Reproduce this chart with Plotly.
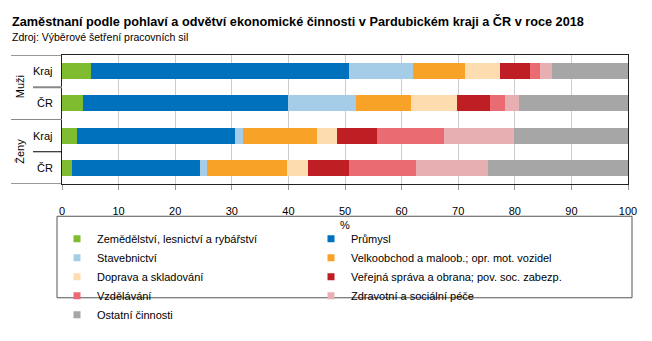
import plotly.graph_objects as go

rows = ["Muži|Kraj", "Muži|ČR", "Ženy|Kraj", "Ženy|ČR"]
inner_labels = ["Kraj", "ČR", "Kraj", "ČR"]
groups = ["Muži", "Ženy"]

sectors = [
    "Zemědělství, lesnictví a rybářství",
    "Průmysl",
    "Stavebnictví",
    "Velkoobchod a maloob.; opr. mot. vozidel",
    "Doprava a skladování",
    "Veřejná správa a obrana; pov. soc. zabezp.",
    "Vzdělávání",
    "Zdravotní a sociální péče",
    "Ostatní činnosti",
]

# values per sector for rows: Muži Kraj, Muži ČR, Ženy Kraj, Ženy ČR (%)
zemedelstvi = [5.2, 3.7, 2.6, 1.8]
prumysl = [45.5, 36.3, 28.0, 22.6]
stavebnictvi = [11.4, 12.0, 1.4, 1.3]
obchod = [9.1, 9.7, 13.0, 14.1]
doprava = [6.1, 8.1, 3.6, 3.6]
sprava = [5.4, 5.8, 7.1, 7.3]
vzdelavani = [1.8, 2.7, 11.8, 11.8]
zdravotni = [2.1, 2.4, 12.4, 12.7]
ostatni = [13.4, 19.3, 20.1, 24.8]

series = [zemedelstvi, prumysl, stavebnictvi, obchod, doprava, sprava,
          vzdelavani, zdravotni, ostatni]
colors = ["#80bc30", "#0071bd", "#a6cde8", "#f9a228", "#fddcb0",
          "#be1e24", "#eb6b73", "#e8afb2", "#a6a6a6"]

x_ticks = [0, 10, 20, 30, 40, 50, 60, 70, 80, 90, 100]

fig = go.Figure()
for name, vals, col in zip(sectors, series, colors):
    fig.add_trace(go.Bar(
        y=rows, x=vals, name=name, orientation="h", showlegend=False,
        marker=dict(color=col, line=dict(width=0)),
        hovertemplate="%{x}<extra>" + name + "</extra>",
    ))
# legend entries with small square markers
for name, col in zip(sectors, colors):
    fig.add_trace(go.Scatter(
        x=[None], y=[None], mode="markers", name=name,
        marker=dict(symbol="square", size=7, color=col),
        hoverinfo="skip",
    ))

W, H = 652, 341
L, R, T, B = 62, 24, 55, 142
pw = W - L - R
ph = H - T - B

def px_x(px):
    return (px - L) / pw

def px_y(py):
    return (H - B - py) / ph

annotations = []
for i, lab in enumerate(inner_labels):
    annotations.append(dict(x=px_x(55), xref="paper", y=i, yref="y",
                            text=lab, showarrow=False, xanchor="right",
                            font=dict(size=11, color="#000")))
for gi, g in enumerate(groups):
    annotations.append(dict(x=px_x(20), xref="paper", y=gi * 2 + 0.5, yref="y",
                            text=g, showarrow=False, textangle=-90,
                            xanchor="center", yanchor="middle",
                            font=dict(size=11, color="#000")))
annotations.append(dict(x=px_x(10), xref="paper", y=px_y(18), yref="paper",
                        text="<b>Zaměstnaní podle pohlaví a odvětví ekonomické činnosti v Pardubickém kraji a ČR v roce 2018</b>",
                        showarrow=False, xanchor="left", yanchor="middle",
                        font=dict(size=12.7, color="#000")))
annotations.append(dict(x=px_x(10), xref="paper", y=px_y(35), yref="paper",
                        text="Zdroj: Výběrové šetření pracovních sil",
                        showarrow=False, xanchor="left", yanchor="middle",
                        font=dict(size=10.5, color="#000")))

shapes = [
    dict(type="line", xref="paper", yref="y", x0=px_x(11), x1=0, y0=-0.5, y1=-0.5,
         line=dict(color="#333", width=1)),
    dict(type="line", xref="paper", yref="y", x0=px_x(33), x1=0, y0=0.5, y1=0.5,
         line=dict(color="#888", width=2)),
    dict(type="line", xref="paper", yref="y", x0=px_x(11), x1=0, y0=1.5, y1=1.5,
         line=dict(color="#888", width=1)),
    dict(type="line", xref="paper", yref="y", x0=px_x(33), x1=0, y0=2.5, y1=2.5,
         line=dict(color="#000", width=1)),
    dict(type="line", xref="paper", yref="y", x0=px_x(11), x1=0, y0=3.5, y1=3.5,
         line=dict(color="#333", width=1)),
    dict(type="rect", xref="paper", yref="paper", x0=px_x(57), x1=px_x(632),
         y0=px_y(235), y1=px_y(326), line=dict(color="#555", width=1)),
]

fig.update_layout(
    width=W, height=H,
    margin=dict(l=L, r=R, t=T, b=B),
    paper_bgcolor="white", plot_bgcolor="white",
    barmode="stack", bargap=0.5,
    font=dict(family="Liberation Sans, Arial, sans-serif", size=11, color="#000"),
    xaxis=dict(range=[0, 100], tickvals=x_ticks, showgrid=True,
               gridcolor="#cccccc", gridwidth=1, zeroline=False,
               showline=True, linecolor="#222", linewidth=1, mirror=True,
               ticks="outside", ticklen=5, tickcolor="#999",
               ticklabelstandoff=12,
               title=dict(text="%", font=dict(size=11), standoff=5),
               tickfont=dict(size=11)),
    yaxis=dict(type="category", categoryorder="array", categoryarray=rows,
               range=[3.5, -0.5], showticklabels=False, showgrid=False,
               showline=True, linecolor="#222", linewidth=1, mirror=True,
               ticks=""),
    showlegend=True,
    legend=dict(orientation="h", x=px_x(57), y=px_y(244), xanchor="left",
                yanchor="top", entrywidth=209, entrywidthmode="pixels",
                font=dict(size=11), traceorder="normal",
                bgcolor="rgba(0,0,0,0)", borderwidth=0),
    annotations=annotations,
    shapes=shapes,
)

fig.write_html("out.html")
